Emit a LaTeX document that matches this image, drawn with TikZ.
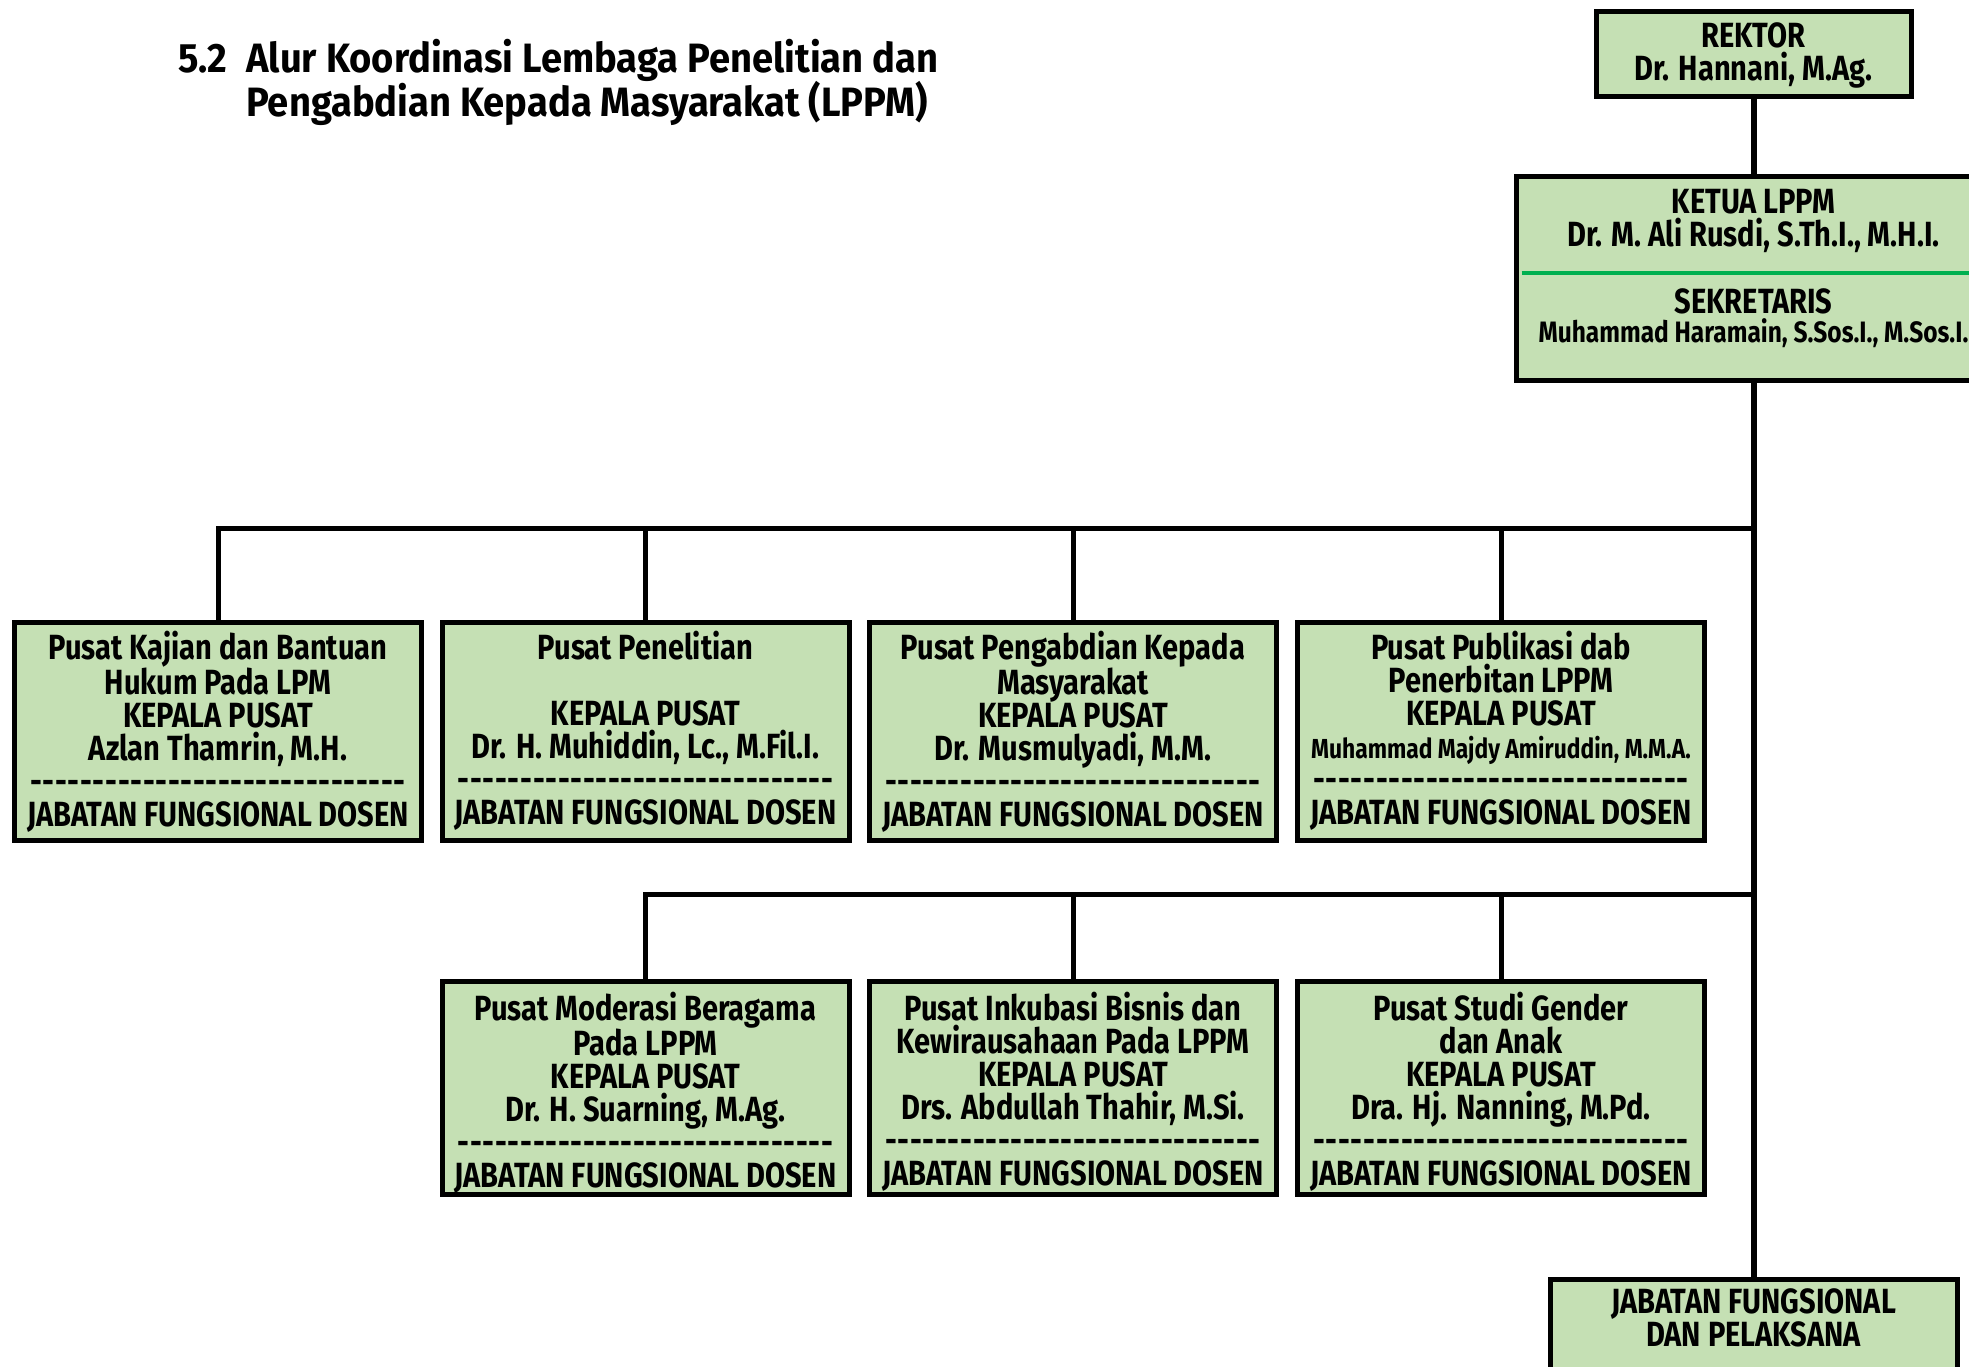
\documentclass[tikz,border=0pt]{standalone}
\usepackage{fontspec}
\setmainfont{Fira Sans}[FakeStretch=0.83]
\newfontfamily\titlefont{Fira Sans}[FakeStretch=0.93]
\definecolor{boxgreen}{HTML}{C5E0B4}
\definecolor{sepgreen}{HTML}{00B050}
\newcommand\dashrow{\hbox to 376pt{\leaders\hbox to 12.53pt{\hss-\hss}\hfill}}
\newcommand\smallname[1]{{\fontsize{27.5}{33}\selectfont #1}}
\begin{document}
\begin{tikzpicture}[x=1pt,y=-1pt,
  orgbox/.style={draw=black, line width=5pt, fill=boxgreen, rectangle, inner sep=0pt, minimum width=407pt, minimum height=#1},
  boxtext/.style={anchor=north, align=center, inner sep=0pt, font=\bfseries\fontsize{35}{33}\selectfont},
  linetext/.style={anchor=base, inner sep=0pt, font=\bfseries\fontsize{35}{33}\selectfont},
  titletext/.style={anchor=base west, inner sep=0pt, font=\titlefont\bfseries\fontsize{41}{43}\selectfont},
  link/.style={line width=5pt},
  mainlink/.style={line width=6pt},
  sepline/.style={draw=sepgreen, line width=3.5pt}]
\useasboundingbox (0,0) rectangle (1969,1366);
\clip (0,0) rectangle (1969,1366);

% title
\node[titletext] (tnum) at (178,72) {5.2};
\node[titletext] (tl1) at (246,72) {Alur Koordinasi Lembaga Penelitian dan};
\node[titletext] (tl2) at (246,116) {Pengabdian Kepada Masyarakat (LPPM)};

% top boxes
\node[orgbox=85pt, minimum width=315pt] (rektor) at (1753.5,54) {};
\node[boxtext] (rektortext) at ([yshift=-11pt]rektor.north) {\rule{0pt}{27pt}REKTOR\\Dr. Hannani, M.Ag.};

\node[orgbox=204pt, minimum width=475pt] (ketua) at (1753.5,278.5) {};
\node[boxtext] (ketuatext) at ([yshift=-12pt]ketua.north) {\rule{0pt}{27pt}KETUA LPPM\\Dr. M. Ali Rusdi, S.Th.I., M.H.I.};
\coordinate (sepy) at (1753.5,273);
\draw[sepline] ([xshift=8pt]ketua.west |- sepy) -- (ketua.east |- sepy);
\node[linetext] (sek) at (1753.5,313) {SEKRETARIS};
\node[linetext, font=\bfseries\fontsize{29.5}{33}\selectfont] (sekname) at (1753.5,342) {Muhammad Haramain, S.Sos.I., M.Sos.I.};

% row 1
\node[orgbox=218pt] (b1) at (218,731.5) {};
\node[orgbox=218pt] (b2) at (645.5,731.5) {};
\node[orgbox=218pt] (b3) at (1073,731.5) {};
\node[orgbox=218pt] (b4) at (1501,731.5) {};
\node[boxtext] (t1) at ([yshift=-11pt]b1.north) {\rule{0pt}{27pt}Pusat Kajian dan Bantuan\\Hukum Pada LPM\\KEPALA PUSAT\\Azlan Thamrin, M.H.\\\dashrow\\JABATAN FUNGSIONAL DOSEN};
\node[boxtext] (t2) at ([yshift=-11pt]b2.north) {\rule{0pt}{27pt}Pusat Penelitian\\[33pt]KEPALA PUSAT\\Dr. H. Muhiddin, Lc., M.Fil.I.\\\dashrow\\JABATAN FUNGSIONAL DOSEN};
\node[boxtext] (t3) at ([yshift=-11pt]b3.north) {\rule{0pt}{27pt}Pusat Pengabdian Kepada\\Masyarakat\\KEPALA PUSAT\\Dr. Musmulyadi, M.M.\\\dashrow\\JABATAN FUNGSIONAL DOSEN};
\node[boxtext] (t4) at ([yshift=-11pt]b4.north) {\rule{0pt}{27pt}Pusat Publikasi dab\\Penerbitan LPPM\\KEPALA PUSAT\\\smallname{Muhammad Majdy Amiruddin, M.M.A.}\\\dashrow\\JABATAN FUNGSIONAL DOSEN};

% row 2
\node[orgbox=213pt] (b6) at (645.5,1088) {};
\node[orgbox=213pt] (b7) at (1073,1088) {};
\node[orgbox=213pt] (b8) at (1501,1088) {};
\node[boxtext] (t6) at ([yshift=-13pt]b6.north) {\rule{0pt}{27pt}Pusat Moderasi Beragama\\Pada LPPM\\KEPALA PUSAT\\Dr. H. Suarning, M.Ag.\\\dashrow\\JABATAN FUNGSIONAL DOSEN};
\node[boxtext] (t7) at ([yshift=-13pt]b7.north) {\rule{0pt}{27pt}Pusat Inkubasi Bisnis dan\\Kewirausahaan Pada LPPM\\KEPALA PUSAT\\Drs. Abdullah Thahir, M.Si.\\\dashrow\\JABATAN FUNGSIONAL DOSEN};
\node[boxtext] (t8) at ([yshift=-13pt]b8.north) {\rule{0pt}{27pt}Pusat Studi Gender\\dan Anak\\KEPALA PUSAT\\Dra. Hj. Nanning, M.Pd.\\\dashrow\\JABATAN FUNGSIONAL DOSEN};

% bottom box
\node[orgbox=200pt] (bottom) at (1753.5,1379.5) {};
\node[boxtext] (bottomtext) at ([yshift=-9pt]bottom.north) {\rule{0pt}{27pt}JABATAN FUNGSIONAL\\DAN PELAKSANA};

% connectors
\coordinate (j1) at (1753.5,528);
\coordinate (j2) at (1753.5,894);
\draw[mainlink] (rektor.south) -- (rektor.south |- ketua.north);
\draw[mainlink] (ketua.south) -- (ketua.south |- bottom.north);
\draw[link] (b1.north) |- (j1);
\draw[link] (b2.north) -- (b2.north |- j1);
\draw[link] (b3.north) -- (b3.north |- j1);
\draw[link] (b4.north) -- (b4.north |- j1);
\draw[link] (b6.north) |- (j2);
\draw[link] (b7.north) -- (b7.north |- j2);
\draw[link] (b8.north) -- (b8.north |- j2);
\end{tikzpicture}
\end{document}
